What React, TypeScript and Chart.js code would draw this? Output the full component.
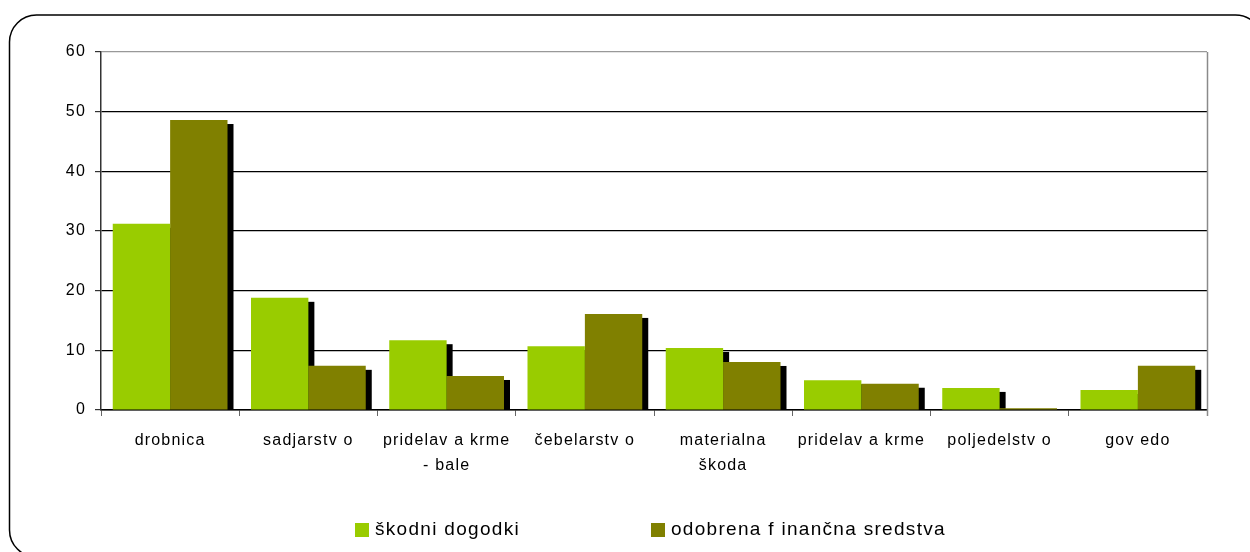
import { useEffect, useRef } from "react";
import { Chart, registerables } from "chart.js";

Chart.register(...registerables);

const categories: string[][] = [
  ["drobnica"],
  ["sadjarstv o"],
  ["pridelav a krme", "- bale"],
  ["čebelarstv o"],
  ["materialna", "škoda"],
  ["pridelav a krme"],
  ["poljedelstv o"],
  ["gov edo"],
];
const seriesNames = ["škodni dogodki", "odobrena f inančna sredstva"];
const skodniDogodki = [31.2, 18.8, 11.7, 10.7, 10.4, 5.0, 3.7, 3.35];
const odobrenaSredstva = [48.6, 7.4, 5.7, 16.1, 8.05, 4.4, 0.3, 7.4];
const seriesColors = ["#99CC00", "#808000"];
const yMin = 0;
const yMax = 60;
const yStep = 10;

const FONT = '"Liberation Sans", Arial, sans-serif';

const spacingPlugin = {
  id: "spacing",
  beforeDraw(chart: any) {
    chart.ctx.letterSpacing = "1.2px";
  },
};

const shadowPlugin = {
  id: "barShadow",
  beforeDatasetsDraw(chart: any) {
    const { ctx, chartArea } = chart;
    ctx.save();
    ctx.beginPath();
    ctx.rect(chartArea.left, chartArea.top, chartArea.right - chartArea.left, chartArea.bottom - chartArea.top);
    ctx.clip();
    ctx.fillStyle = "#000";
    chart.data.datasets.forEach((_: any, i: number) => {
      const meta = chart.getDatasetMeta(i);
      meta.data.forEach((bar: any) => {
        const { x, y, base, width } = bar.getProps(["x", "y", "base", "width"], true);
        ctx.fillRect(x - width / 2 + 6, y + 4, width, base - y);
      });
    });
    ctx.restore();
  },
};

const framePlugin = {
  id: "frame",
  afterDraw(chart: any) {
    const { ctx, chartArea } = chart;
    ctx.save();
    // right border of plot area
    ctx.strokeStyle = "#8a8a8a";
    ctx.lineWidth = 1.5;
    ctx.beginPath();
    ctx.moveTo(chartArea.right + 0.5, chartArea.top);
    ctx.lineTo(chartArea.right + 0.5, chartArea.bottom + 6);
    ctx.stroke();
    // outer rounded frame
    ctx.strokeStyle = "#000";
    ctx.lineWidth = 1.5;
    ctx.beginPath();
    ctx.roundRect(9.5, 15, 1253, 542, 27);
    ctx.stroke();
    // legend
    ctx.letterSpacing = "1.3px";
    ctx.font = `19px ${FONT}`;
    ctx.textBaseline = "alphabetic";
    ctx.textAlign = "left";
    const starts = [355, 651];
    chart.data.datasets.forEach((ds: any, i: number) => {
      const x0 = starts[i];
      ctx.fillStyle = ds.backgroundColor;
      ctx.fillRect(x0, 523, 14, 14);
      ctx.fillStyle = "#000";
      ctx.fillText(ds.label, x0 + 20, 535);
    });
    ctx.restore();
  },
};

export default function App() {
  const ref = useRef<HTMLCanvasElement | null>(null);

  useEffect(() => {
    if (!ref.current) return;
    const chart = new Chart(ref.current, {
      type: "bar",
      data: {
        labels: categories,
        datasets: [
          { label: seriesNames[0], data: skodniDogodki, backgroundColor: seriesColors[0] },
          { label: seriesNames[1], data: odobrenaSredstva, backgroundColor: seriesColors[1] },
        ],
      },
      options: {
        responsive: false,
        animation: false,
        events: [],
        layout: { padding: { left: 0, top: 52, right: 43, bottom: 0 } },
        datasets: {
          bar: { barPercentage: 1, categoryPercentage: 0.83, borderWidth: 0 },
        },
        plugins: {
          legend: { display: false },
          tooltip: { enabled: false },
          title: { display: false },
        },
        scales: {
          x: {
            afterFit(scale: any) {
              scale.height = 142;
            },
            grid: {
              drawOnChartArea: false,
              drawTicks: true,
              tickLength: 6,
              offset: true,
              color: "#666",
            },
            border: { color: "#000", width: 1.5 },
            ticks: {
              color: "#000",
              font: { family: FONT, size: 16, lineHeight: 1.55 },
              padding: 12,
              maxRotation: 0,
              autoSkip: false,
            },
          },
          y: {
            min: yMin,
            max: yMax,
            afterFit(scale: any) {
              scale.width = 101;
            },
            grid: {
              color: (c: any) => (c.tick && c.tick.value === yMax ? "#999" : "#000"),
              lineWidth: 1.2,
              drawTicks: true,
              tickLength: 6,
              tickColor: "#333",
            },
            border: { color: "#333", width: 1.5 },
            ticks: {
              stepSize: yStep,
              color: "#000",
              font: { family: FONT, size: 16 },
              padding: 9,
            },
          },
        },
      },
      plugins: [spacingPlugin, shadowPlugin, framePlugin],
    });
    return () => chart.destroy();
  }, []);

  return (
    <div style={{ position: "fixed", left: 0, top: 0, width: 1250, height: 552, background: "#fff" }}>
      <canvas ref={ref} width={1250} height={552} style={{ display: "block", width: 1250, height: 552 }} />
    </div>
  );
}
